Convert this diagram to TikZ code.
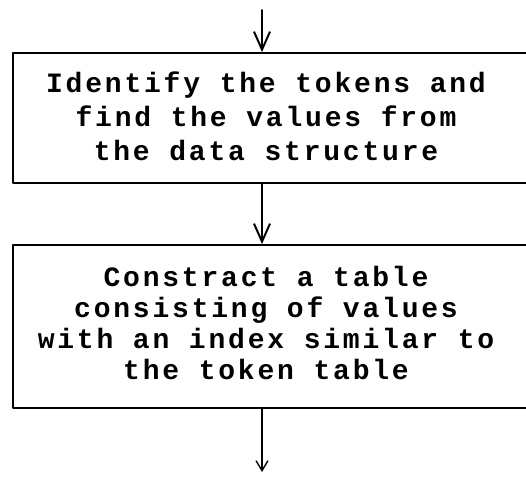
\documentclass[tikz,border=0pt]{standalone}
\usepackage{fontspec}
\newfontfamily\dotfont[LetterSpace=10]{Liberation Mono}
\usetikzlibrary{arrows.meta}

\tikzset{
	stepbox/.style={draw, line width=1.8pt, minimum width=530pt, inner sep=0pt},
	steptext/.style={align=center, inner sep=0pt},
	flow/.style={line width=1.8pt, -{Straight Barb[length=18pt, width=16pt, line width=2pt]}},
	flowend/.style={line width=1.4pt, -{Straight Barb[length=10pt, width=12pt, line width=1.4pt]}}
}

\begin{document}
\begin{tikzpicture}[x=1pt, y=-1pt, line cap=round, line join=round, font=\dotfont\bfseries\fontsize{28}{34}\selectfont]
	\useasboundingbox (0,0) rectangle (526,476);
	% Points where the flow comes in and goes out
	\coordinate (in) at (262,10);
	\coordinate (out) at (262,472);
	
	% The two boxes (they run past the right edge)
	\node[stepbox, minimum height=130pt] (find) at (278,118) {};
	\node[stepbox, minimum height=163pt] (table) at (278,326.5) {};
	
	% Texts in the boxes
	\node[steptext] (findtext) at (266,116) {Identify the tokens and\\find the values from\\the data structure};
	\node[steptext, font=\dotfont\bfseries\fontsize{28}{31}\selectfont] (tabletext) at (266,323) {Constract a table\\consisting of values\\with an index similar to\\the token table};
	
	% Arrows
	\draw[flow] (in) -- (in |- find.north);
	\draw[flow] (in |- find.south) -- (in |- table.north);
	\draw[flowend] (in |- table.south) -- (out);
\end{tikzpicture}
\end{document}
